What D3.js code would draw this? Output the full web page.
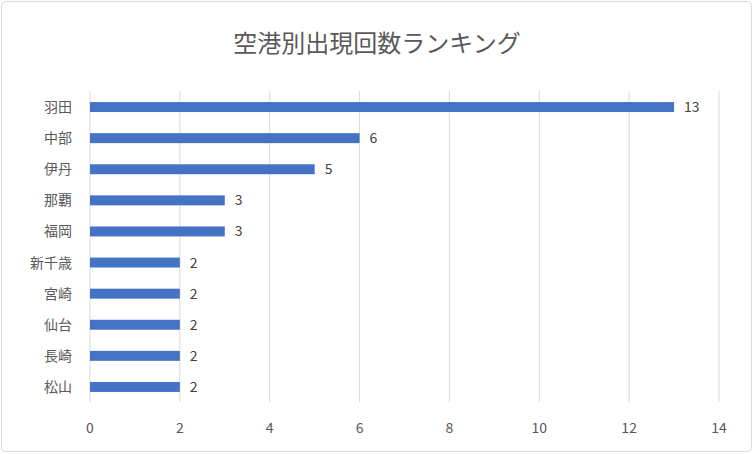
<!DOCTYPE html>
<html><head><meta charset="utf-8">
<script src="https://cdn.jsdelivr.net/npm/d3@7"></script>
<style>body{margin:0;background:#fff}text{font-family:"Noto Sans CJK JP","Noto Sans",sans-serif}</style>
</head><body><svg id="c" width="754" height="454"></svg>
<script>
const categories=["羽田","中部","伊丹","那覇","福岡","新千歳","宮崎","仙台","長崎","松山"];
const values=[13,6,5,3,3,2,2,2,2,2];
const xTicks=[0,2,4,6,8,10,12,14];
const svg=d3.select("#c");
svg.append("rect").attr("x",1.5).attr("y",1.5).attr("width",750).attr("height",450).attr("rx",4).attr("fill","#fff").attr("stroke","#d9d9d9");
svg.append("text").attr("x",377).attr("y",52).attr("text-anchor","middle").attr("font-size",24).attr("fill","#595959").text("空港別出現回数ランキング");
const x=d3.scaleLinear().domain([0,14]).range([90,719]);
const y=d3.scaleBand().domain(categories).range([91.5,402.5]).paddingInner(0.68).paddingOuter(0.34);
svg.append("g").selectAll("line").data(xTicks).join("line").attr("x1",d=>x(d)).attr("x2",d=>x(d)).attr("y1",91).attr("y2",402).attr("stroke","#d9d9d9");
svg.append("g").selectAll("rect").data(values).join("rect").attr("x",x(0)).attr("y",(d,i)=>y(categories[i])).attr("width",d=>x(d)-x(0)).attr("height",y.bandwidth()).attr("fill","#4472c4");
svg.append("g").selectAll("text").data(values).join("text").attr("x",d=>x(d)+10).attr("y",(d,i)=>y(categories[i])+y.bandwidth()/2+5).attr("font-size",14).attr("fill","#404040").text(d=>d);
svg.append("g").selectAll("text").data(categories).join("text").attr("x",72).attr("y",d=>y(d)+y.bandwidth()/2+5).attr("text-anchor","end").attr("font-size",14).attr("fill","#595959").text(d=>d);
svg.append("g").selectAll("text").data(xTicks).join("text").attr("x",d=>x(d)).attr("y",433).attr("text-anchor","middle").attr("font-size",14).attr("fill","#595959").text(d=>d);
</script></body></html>
